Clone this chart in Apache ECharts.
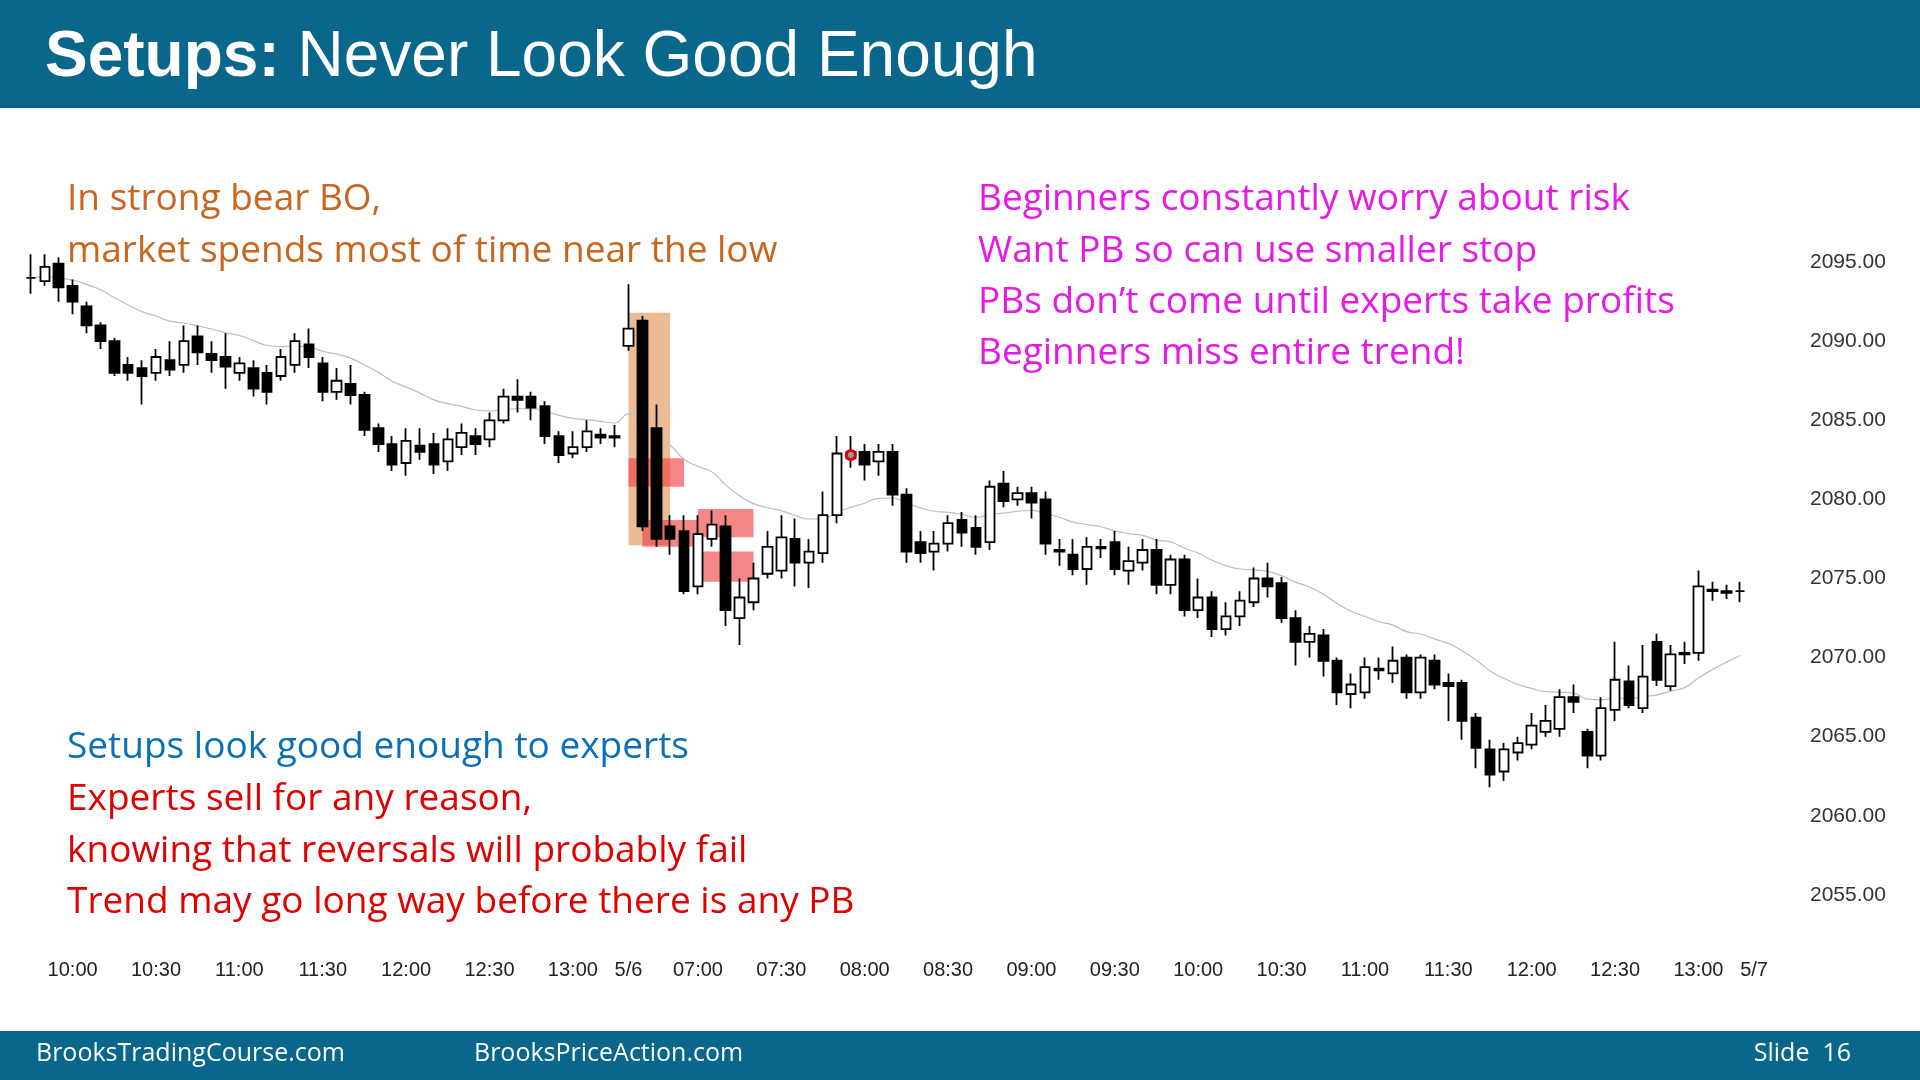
<!DOCTYPE html>
<html>
<head>
<meta charset="utf-8">
<script src="https://cdn.jsdelivr.net/npm/echarts@6/dist/echarts.min.js"></script>
<style>
  html, body { margin: 0; padding: 0; background: #fff; }
  #chart { width: 1920px; height: 1080px; }
</style>
</head>
<body>
<div id="chart"></div>
<script>
// 5-minute bars: [open, close, low, high]
var day1Bars = [
  [2094,2094,2093,2095.5],[2093.8,2094.7,2093.5,2095.5],[2094.9,2093.4,2092.5,2095.3],[2093.5,2092.5,2091.7,2093.9],
  [2092.2,2091,2090.5,2092.5],[2091,2090,2089.5,2091.2],[2090,2088,2087.8,2090.2],[2088.5,2088,2087.5,2089],
  [2088.3,2087.8,2086,2088.8],[2088,2089,2087.5,2089.5],[2088.8,2088.2,2087.8,2090],[2088.5,2090,2088,2091],
  [2090.3,2089.3,2088.5,2091],[2089.2,2088.8,2088,2090],[2089,2088.4,2087,2090.5],[2088,2088.6,2087.5,2089],
  [2088.3,2087,2086.5,2088.8],[2088,2086.8,2086,2088.5],[2087.8,2089,2087.5,2089.5],[2088.5,2090,2088,2090.5],
  [2089.8,2089,2088.3,2090.8],[2088.6,2086.8,2086.2,2089],[2086.8,2087.5,2086.3,2088.3],[2087.3,2086.6,2086,2088.5],
  [2086.6,2084.4,2084,2086.8],[2084.5,2083.5,2083,2084.8],[2083.5,2082.2,2081.8,2084],[2082.3,2083.7,2081.5,2084.5],
  [2083.4,2083,2082.5,2084.5],[2083.5,2082.2,2081.6,2084.2],[2082.4,2083.8,2081.8,2084.5],[2083.3,2084.2,2082.8,2084.8],
  [2084,2083.5,2082.8,2084.5],[2083.8,2085,2083.3,2085.5],[2085,2086.5,2084.8,2087],[2086.5,2086.3,2085.5,2087.6],
  [2086.5,2085.8,2085,2086.8],[2085.9,2084,2083.5,2086.2],[2084,2082.8,2082.3,2084.3],[2082.9,2083.3,2082.6,2084.3],
  [2083.3,2084.3,2083,2085],[2084.1,2083.9,2083.5,2084.5],[2084,2083.9,2083.3,2084.7]
];
var day2Bars = [
  [2089.7,2090.8,2089.4,2093.6],[2091.3,2078.3,2078,2091.6],[2084.5,2077.5,2077,2086],[2078.3,2077.5,2076.5,2079],
  [2078,2074.2,2074,2079],[2074.5,2077.8,2074,2079],[2077.5,2078.4,2077,2079.3],[2078.3,2073,2072,2079],
  [2072.5,2073.8,2070.8,2075],[2073.5,2075,2073,2076],[2075.3,2077,2075,2078],[2075.5,2077.6,2075,2079],
  [2077.5,2076,2074.5,2078.8],[2076,2076.7,2074.4,2077.5],[2076.6,2079,2076,2080.5],[2079,2082.9,2078.5,2084],
  [2083,2082.6,2082,2084],[2083,2082.2,2081.2,2083.5],[2082.4,2083,2081.5,2083.5],[2083,2080.3,2079.6,2083.5],
  [2080.3,2076.7,2076,2080.7],[2077.3,2076.6,2076,2078],[2076.7,2077.2,2075.5,2078],[2077.2,2078.5,2076.7,2079],
  [2078.7,2077.9,2077,2079.2],[2078.2,2077,2076.5,2079],[2077.3,2080.8,2076.8,2081.2],[2081,2079.9,2079.5,2081.8],
  [2080,2080.4,2079.6,2080.8],[2080.4,2079.8,2078.8,2080.8],[2080,2077.2,2076.5,2080.5],[2076.8,2076.7,2075.8,2077.5],
  [2076.5,2075.6,2075.2,2077.5],[2075.6,2077,2074.6,2077.6],[2077,2076.9,2076.3,2077.5],[2077.3,2075.6,2075.2,2078],
  [2075.5,2076.1,2074.6,2077],[2076,2076.8,2075.5,2077.5],[2076.8,2074.6,2074,2077.5],[2074.6,2076.2,2074,2076.5],
  [2076.2,2073,2072.6,2076.5],[2073,2073.8,2072.5,2075],[2073.8,2071.8,2071.3,2074.2],[2071.8,2072.6,2071.4,2073.5],
  [2072.6,2073.6,2072,2074.2],[2073.5,2075,2073.2,2075.7],[2075,2074.5,2073.8,2076],[2074.7,2072.5,2072.2,2075.1],
  [2072.5,2071,2069.5,2073],[2071,2071.5,2070,2072],[2071.4,2069.8,2068.8,2071.8],[2069.8,2067.8,2067,2070],
  [2067.7,2068.3,2066.8,2069],[2067.8,2069.4,2067.4,2070],[2069.2,2069.3,2068.6,2070],[2069,2069.8,2068.4,2070.7],
  [2070,2067.8,2067.4,2070.2],[2067.8,2070,2067.4,2070.2],[2069.8,2068.3,2068,2070.2],[2068.4,2068.2,2066,2069],
  [2068.4,2066,2064.8,2068.6],[2066.2,2064.3,2063,2066.5],[2064.2,2062.6,2061.8,2064.8],[2062.8,2064.2,2062.2,2064.6],
  [2064,2064.6,2063.5,2065],[2064.5,2065.7,2064.2,2066.5],[2065.3,2066,2065,2067],[2065.5,2067.5,2065,2068],
  [2067.5,2067.2,2066.5,2068.3],[2065.3,2063.8,2063,2065.5],[2063.8,2066.8,2063.5,2067.5],[2066.7,2068.6,2066,2071],
  [2068.5,2067,2066.8,2069.5],[2066.8,2068.8,2066.5,2070.8],[2071,2068.6,2068.2,2071.5],[2068.2,2070.2,2067.9,2070.8],
  [2070.3,2070.2,2069.6,2071],[2070.3,2074.5,2069.8,2075.5],[2074.3,2074.2,2073.6,2074.8],[2074.2,2074.1,2073.7,2074.6],
  [2074.2,2074.2,2073.5,2074.8]
];
var tickLabels = ['10:00','10:30','11:00','11:30','12:00','12:30','13:00','5/6','07:00','07:30','08:00','08:30',
  '09:00','09:30','10:00','10:30','11:00','11:30','12:00','12:30','13:00','5/7'];
var priceTicks = [2055, 2060, 2065, 2070, 2075, 2080, 2085, 2090, 2095];

function hhmm(m) {
  var h = Math.floor(m / 60), mm = m % 60;
  return (h < 10 ? '0' + h : '' + h) + ':' + (mm < 10 ? '0' + mm : '' + mm);
}
var categories = [];
for (var m = 9 * 60 + 45; m <= 13 * 60 + 15; m += 5) categories.push(hhmm(m));
categories.push('5/6');
for (var m2 = 6 * 60 + 40; m2 <= 13 * 60 + 15; m2 += 5) categories.push(hhmm(m2));
categories.push('5/7');
var showIdx = {};
var ti = 0;
categories.forEach(function (c, i) {
  if (ti < tickLabels.length && c === tickLabels[ti] && (c.indexOf('/') > 0 || c.slice(3) === '00' || c.slice(3) === '30')) {
    showIdx[i] = true; ti++;
  }
});

var bars = day1Bars.concat(day2Bars);
var d2 = day1Bars.length;
var candleData = bars.slice();
candleData.push('-');

// 20-bar exponential moving average of closes
var ema = [];
var k = 2 / 21, prev = bars[0][1];
bars.forEach(function (b) { prev = prev + k * (b[1] - prev); ema.push(+prev.toFixed(2)); });
ema.push('-');

var chart = echarts.init(document.getElementById('chart'));
var font = '"Open Sans", "Noto Sans", sans-serif';
function txt(x, y, s, color) {
  return { type: 'text', left: x, top: y, style: { text: s, fill: color, font: '37px ' + font } };
}
var boxRed = 'rgba(240,70,70,0.65)';
chart.setOption({
  animation: false,
  backgroundColor: '#fff',
  grid: { left: 24, right: 159, top: 183, bottom: 106 },
  xAxis: {
    type: 'category', data: categories, boundaryGap: true,
    axisLine: { show: false }, axisTick: { show: false }, splitLine: { show: false },
    axisLabel: {
      margin: -14, fontSize: 20, color: '#222', fontFamily: 'Arial, "Liberation Sans"',
      interval: function (i) { return !!showIdx[i]; }
    }
  },
  yAxis: {
    type: 'value', position: 'right', min: 2050, max: 2100, interval: 5, scale: true,
    axisLine: { show: false }, axisTick: { show: false }, splitLine: { show: false },
    axisLabel: {
      margin: 49, fontSize: 21, color: '#333', fontFamily: 'Arial, "Liberation Sans"',
      formatter: function (v) { return priceTicks.indexOf(v) >= 0 ? v.toFixed(2) : ''; }
    }
  },
  series: [{
    type: 'line', data: ema, symbol: 'none', smooth: true, z: 1,
    lineStyle: { color: '#bdbdbd', width: 1.2 }
  }, {
    type: 'candlestick', data: candleData, barWidth: 10, z: 3,
    itemStyle: { color: '#fff', color0: '#000', borderColor: '#000', borderColor0: '#000', borderWidth: 1.8 },
    markArea: {
      silent: true,
      data: [
        [{ xAxis: d2, yAxis: 2091.8, itemStyle: { color: 'rgba(222,150,90,0.65)' } }, { xAxis: d2 + 3, yAxis: 2077.1 }],
        [{ xAxis: d2, yAxis: 2082.6, itemStyle: { color: boxRed } }, { xAxis: d2 + 4, yAxis: 2080.8 }],
        [{ xAxis: d2 + 1, yAxis: 2078.7, itemStyle: { color: boxRed } }, { xAxis: d2 + 5, yAxis: 2077.0 }],
        [{ xAxis: d2 + 5, yAxis: 2079.4, itemStyle: { color: boxRed } }, { xAxis: d2 + 9, yAxis: 2077.6 }],
        [{ xAxis: d2 + 5, yAxis: 2076.7, itemStyle: { color: boxRed } }, { xAxis: d2 + 9, yAxis: 2074.8 }]
      ]
    },
    markPoint: {
      silent: true, symbol: 'circle', symbolSize: 9, label: { show: false },
      itemStyle: { color: 'rgba(255,255,255,0.6)', borderColor: '#e00000', borderWidth: 3 },
      data: [{ coord: [d2 + 16, 2082.8] }]
    }
  }],
  graphic: [
    { type: 'rect', left: 0, top: 0, shape: { width: 1920, height: 108 }, style: { fill: '#08678a' } },
    { type: 'rect', left: 0, top: 1031, shape: { width: 1920, height: 49 }, style: { fill: '#08678a' } },
    { type: 'text', left: 45, top: 26, style: {
        rich: { b: { font: 'bold 64px Arial, "Liberation Sans"', fill: '#fff' }, n: { font: '64px Arial, "Liberation Sans"', fill: '#fff' } },
        text: '{b|Setups:}{n| Never Look Good Enough}' } },
    { type: 'text', left: 36, top: 1041, style: { text: 'BrooksTradingCourse.com', fill: '#fff', font: '25px ' + font } },
    { type: 'text', left: 474, top: 1041, style: { text: 'BrooksPriceAction.com', fill: '#fff', font: '25px ' + font } },
    { type: 'text', right: 69, top: 1041, style: { text: 'Slide  16', fill: '#fff', font: '25px ' + font } },
    txt(67, 181, 'In strong bear BO,', '#c8651e'),
    txt(67, 233, 'market spends most of time near the low', '#c8651e'),
    txt(978, 181, 'Beginners constantly worry about risk', '#e619e6'),
    txt(978, 233, 'Want PB so can use smaller stop', '#e619e6'),
    txt(978, 284, 'PBs don\u2019t come until experts take profits', '#e619e6'),
    txt(978, 335, 'Beginners miss entire trend!', '#e619e6'),
    txt(67, 729, 'Setups look good enough to experts', '#0a6fb8'),
    txt(67, 781, 'Experts sell for any reason,', '#e00000'),
    txt(67, 833, 'knowing that reversals will probably fail', '#e00000'),
    txt(67, 884, 'Trend may go long way before there is any PB', '#e00000')
  ]
});
</script>
</body>
</html>
